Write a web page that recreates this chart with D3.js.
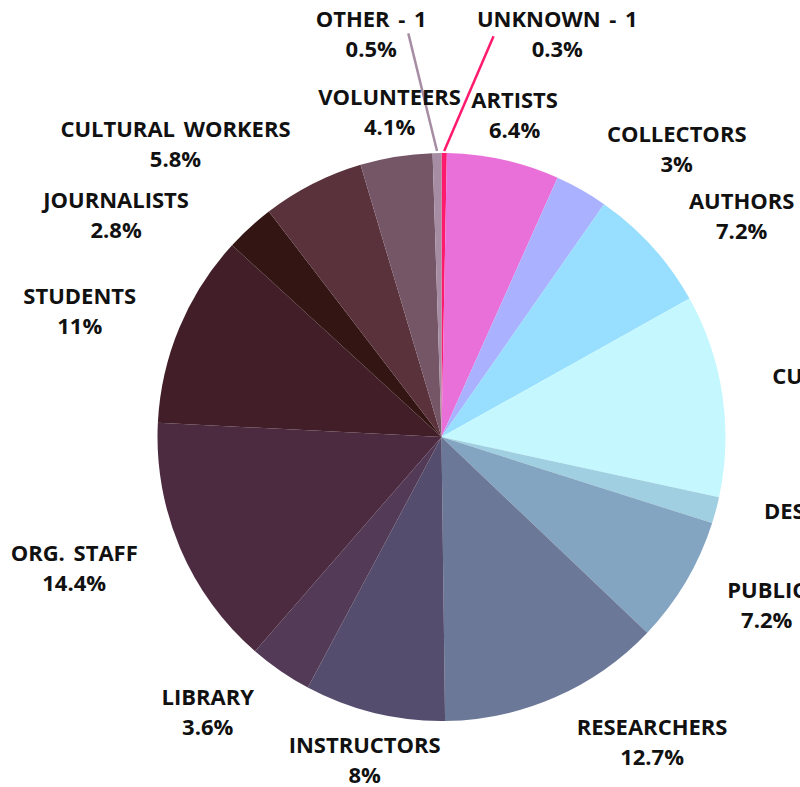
<!DOCTYPE html>
<html>
<head>
<meta charset="utf-8">
<script src="https://cdn.jsdelivr.net/npm/d3@7"></script>
<style>
  body { margin: 0; background: #fff; }
  svg text { font-family: "Open Sans", sans-serif; font-weight: 700; fill: #111; }
</style>
</head>
<body>
<div id="chart"></div>
<script>
// slices, clockwise from 12 o'clock
var names = ["UNKNOWN - 1", "ARTISTS", "COLLECTORS", "AUTHORS", "CURATORS", "DESIGNERS", "PUBLIC",
             "RESEARCHERS", "INSTRUCTORS", "LIBRARY", "ORG. STAFF", "STUDENTS", "JOURNALISTS",
             "CULTURAL WORKERS", "VOLUNTEERS", "OTHER - 1"];
var shares = [0.3, 6.4, 3, 7.2, 11.5, 1.5, 7.2, 12.7, 8, 3.6, 14.4, 11, 2.8, 5.8, 4.1, 0.5];
var colors = ["#ff1a6e", "#e96fd9", "#aab1fe", "#98defe", "#c4f8fe", "#9fcfe0", "#83a5c1", "#6b7897",
              "#544d6d", "#533b57", "#4c2b41", "#421e28", "#331513", "#5a323b", "#755667", "#a68da3"];

// label placement: radius and angle nudge (degrees) per slice
var labelR =     [419, 330, 372, 373, 392, 393, 366, 371, 332, 361, 390, 383, 394, 396, 329, 409];
var labelShift = [15.5, 0.2, 9.7, 5.7, 1.7, -1.9, -3.3, -11, -0.3, 5.8, 3.4, -3.5, -13.2, -15.2, 0.1, -9];

var width = 800, height = 787;
var cx = 441.5, cy = 437, radius = 284;

var svg = d3.select("#chart").append("svg")
    .attr("width", width)
    .attr("height", height);

var g = svg.append("g").attr("transform", "translate(" + cx + "," + cy + ")");

var data = names.map(function(n, i) { return { name: n, value: shares[i], color: colors[i], i: i }; });

var pie = d3.pie().sort(null).value(function(d) { return d.value; });
var arc = d3.arc().innerRadius(0).outerRadius(radius);
var arcs = pie(data);

g.selectAll("path.slice")
  .data(arcs)
  .enter()
  .append("path")
  .attr("class", "slice")
  .attr("d", arc)
  .attr("fill", function(d) { return d.data.color; });

var deg = Math.PI / 180;
var polar = function(a, r) { return [r * Math.sin(a), -r * Math.cos(a)]; };

// leader lines for the tiny slices
var leaders = { "UNKNOWN - 1": { a: 7.4, r: 404 }, "OTHER - 1": { a: -4.7, r: 405 } };
arcs.forEach(function(d) {
    var L = leaders[d.data.name];
    if (!L) return;
    var mid = (d.startAngle + d.endAngle) / 2;
    var p0 = polar(mid, radius + 2);
    var p1 = polar(L.a * deg, L.r);
    g.append("line")
      .attr("x1", p0[0]).attr("y1", p0[1])
      .attr("x2", p1[0]).attr("y2", p1[1])
      .attr("stroke", d.data.color)
      .attr("stroke-width", 2.5);
});

var labels = g.selectAll("g.label")
  .data(arcs)
  .enter()
  .append("g")
  .attr("class", "label")
  .attr("transform", function(d) {
      var mid = (d.startAngle + d.endAngle) / 2 + labelShift[d.data.i] * deg;
      var p = polar(mid, labelR[d.data.i]);
      return "translate(" + p[0] + "," + p[1] + ")";
  });

labels.append("text")
  .attr("text-anchor", "middle")
  .attr("y", -7)
  .style("font-size", "22px")
  .style("word-spacing", "3px")
  .text(function(d) { return d.data.name; });

labels.append("text")
  .attr("text-anchor", "middle")
  .attr("y", 23)
  .style("font-size", "22px")
  .text(function(d) { return d.data.value + "%"; });
</script>
</body>
</html>
